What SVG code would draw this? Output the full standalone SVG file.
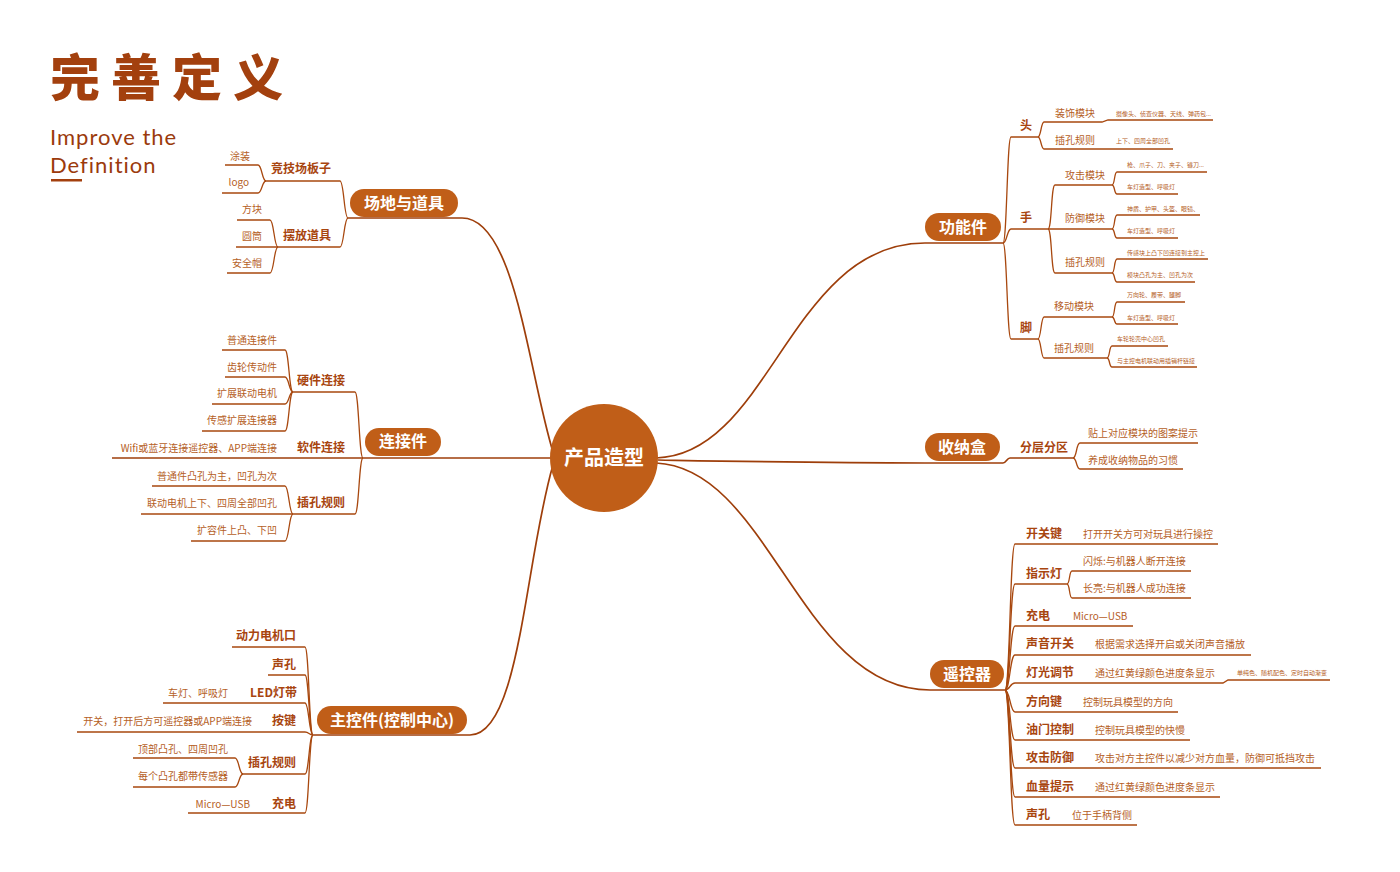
<svg xmlns="http://www.w3.org/2000/svg" width="1400" height="872" viewBox="0 0 1400 872">
<style>
text{font-family:"Noto Sans CJK SC","Noto Sans",sans-serif}
.pill{fill:#C05E18}
.pt{fill:#fff;font-size:16px;font-weight:700;text-anchor:middle}
.b{fill:#A8450F;font-size:12px;font-weight:700}
.c{fill:#B5601F;font-size:10px}
.t{fill:#B5601F;font-size:6px}
.e{text-anchor:end}
.en{font-family:Lato,sans-serif;font-size:22px;fill:#9B3A0C;letter-spacing:1px}
.ln path{fill:none;stroke:#A8480F;stroke-width:1.3}
.ln path.m{stroke:#9E3E0A;stroke-width:1.7}
</style>
<rect width="1400" height="872" fill="#fff"/>
<g id="title">
<text x="50" y="96" style="font-size:50px;font-weight:900;letter-spacing:11px;fill:#A3400E">完善定义</text>
<text class="en" x="50" y="145">Improve the</text>
<text class="en" x="50" y="173">Definition</text>
<rect x="51" y="179" width="31" height="2.5" fill="#A3400E"/>
</g>
<g id="connectors" class="ln">
<path class="m" d="M553,452 C528,370 515,218 462,218 H348"/>
<path d="M265,181 H340 C344,181 344,218 348,218"/>
<path d="M225,165 H258 C262,165 262,181 266,181"/>
<path d="M222,193 H258 C262,193 262,181 266,181"/>
<path d="M278,247 H340 C344,247 344,218 348,218"/>
<path d="M237,220 H270 C274,220 274,247 278,247"/>
<path d="M236,247 H278"/>
<path d="M227,273 H270 C274,273 274,247 278,247"/>
<path class="m" d="M112,458 H552"/>
<path d="M293,392 H355 C359,392 359,458 363,458"/>
<path d="M222,350 H285 C289,350 289,392 293,392"/>
<path d="M225,377 H285 C289,377 289,392 293,392"/>
<path d="M212,404 H285 C289,404 289,392 293,392"/>
<path d="M202,431 H285 C289,431 289,392 293,392"/>
<path d="M293,514 H355 C359,514 359,458 363,458"/>
<path d="M152,486 H285 C289,486 289,514 293,514"/>
<path d="M141,514 H293"/>
<path d="M191,541 H285 C289,541 289,514 293,514"/>
<path class="m" d="M553,465 C525,560 520,735 470,735 H313"/>
<path d="M232,647 H305 C309,647 309,735 313,735"/>
<path d="M268,675 H305 C309,675 309,735 313,735"/>
<path d="M163,703 H305 C309,703 309,735 313,735"/>
<path d="M77,732 H305 C309,732 309,735 313,735"/>
<path d="M242,774 H305 C309,774 309,735 313,735"/>
<path d="M133,758 H235 C239,758 239,774 243,774"/>
<path d="M133,787 H235 C239,787 239,774 243,774"/>
<path d="M188,813 H305 C309,813 309,735 313,735"/>
<path class="m" d="M656,458 C770,455 790,243 925,243 H1003"/>
<path d="M1003,243 C1007,243 1007,137 1011,137 H1038"/>
<path d="M1038,137 C1041,137 1041,122 1044,122 H1102 L1108,120 H1213"/>
<path d="M1038,137 C1041,137 1041,149 1044,149 H1173"/>
<path d="M1003,243 C1007,243 1007,229 1011,229 H1048"/>
<path d="M1048,229 C1052,229 1051,185 1055,185 H1112"/>
<path d="M1112,185 C1115,185 1114,172 1117,172 H1207"/>
<path d="M1112,185 C1115,185 1114,194 1117,194 H1178"/>
<path d="M1048,229 H1112"/>
<path d="M1112,229 C1115,229 1114,215 1117,215 H1200"/>
<path d="M1112,229 C1115,229 1114,238 1117,238 H1178"/>
<path d="M1048,229 C1052,229 1051,273 1055,273 H1112"/>
<path d="M1112,273 C1115,273 1114,259 1117,259 H1208"/>
<path d="M1112,273 C1115,273 1114,282 1117,282 H1195"/>
<path d="M1003,243 C1007,243 1007,339 1011,339 H1038"/>
<path d="M1038,339 C1041,339 1041,317 1044,317 H1112"/>
<path d="M1112,317 C1115,317 1114,302 1117,302 H1185"/>
<path d="M1112,317 C1115,317 1114,324 1117,324 H1178"/>
<path d="M1038,339 C1041,339 1041,358 1044,358 H1107"/>
<path d="M1107,358 C1110,358 1109,346 1112,346 H1168"/>
<path d="M1107,358 C1110,358 1109,367 1112,367 H1197"/>
<path class="m" d="M658,460 C770,462 820,463 925,463 H1003 C1006,463 1007,458 1010,458 H1073"/>
<path d="M1073,458 C1077,458 1076,443 1080,443 H1198"/>
<path d="M1073,458 C1077,458 1076,469 1080,469 H1183"/>
<path class="m" d="M656,463 C770,468 800,690 930,690 H1005"/>
<path d="M1005,690 C1010,690 1010,544 1015,544 H1218"/>
<path d="M1005,690 C1010,690 1010,584 1015,584 H1067"/>
<path d="M1067,584 C1070,584 1069,571 1072,571 H1191"/>
<path d="M1067,584 C1070,584 1069,598 1072,598 H1191"/>
<path d="M1005,690 C1010,690 1010,626 1015,626 H1133"/>
<path d="M1005,690 C1010,690 1010,655 1015,655 H1251"/>
<path d="M1005,690 C1010,690 1010,683 1015,683 H1223 L1228,680 H1330"/>
<path d="M1005,690 C1010,690 1010,712 1015,712 H1178"/>
<path d="M1005,690 C1010,690 1010,740 1015,740 H1190"/>
<path d="M1005,690 C1010,690 1010,768 1015,768 H1321"/>
<path d="M1005,690 C1010,690 1010,797 1015,797 H1220"/>
<path d="M1005,690 C1010,690 1010,825 1015,825 H1137"/>
</g>
<g id="center">
<circle cx="604" cy="458" r="54" fill="#C05E18"/>
<text x="604" y="465" style="fill:#fff;font-size:20px;font-weight:700;text-anchor:middle">产品造型</text>
</g>
<g id="node-changdi">
<rect class="pill" x="350" y="189" width="108" height="28" rx="14"/>
<text class="pt" x="404" y="209">场地与道具</text>
<text class="b e" x="331" y="173">竞技场板子</text>
<text class="c e" x="250" y="160">涂装</text>
<text class="c e" x="249" y="186">logo</text>
<text class="b e" x="331" y="240">摆放道具</text>
<text class="c e" x="262" y="213">方块</text>
<text class="c e" x="262" y="240">圆筒</text>
<text class="c e" x="262" y="267">安全帽</text>
</g>
<g id="node-lianjie">
<rect class="pill" x="365" y="428" width="76" height="28" rx="14"/>
<text class="pt" x="403" y="447">连接件</text>
<text class="b e" x="345" y="385">硬件连接</text>
<text class="c e" x="277" y="344">普通连接件</text>
<text class="c e" x="277" y="371">齿轮传动件</text>
<text class="c e" x="277" y="397">扩展联动电机</text>
<text class="c e" x="277" y="424">传感扩展连接器</text>
<text class="b e" x="345" y="452">软件连接</text>
<text class="c e" x="277" y="452">Wifi或蓝牙连接遥控器、APP端连接</text>
<text class="b e" x="345" y="507">插孔规则</text>
<text class="c e" x="277" y="480">普通件凸孔为主，凹孔为次</text>
<text class="c e" x="277" y="507">联动电机上下、四周全部凹孔</text>
<text class="c e" x="277" y="534">扩容件上凸、下凹</text>
</g>
<g id="node-zhukong">
<rect class="pill" x="317" y="706" width="150" height="28" rx="14"/>
<text class="pt" x="392" y="726">主控件(控制中心)</text>
<text class="b e" x="296" y="640">动力电机口</text>
<text class="b e" x="296" y="669">声孔</text>
<text class="b e" x="297" y="697">LED灯带</text>
<text class="c e" x="228" y="697">车灯、呼吸灯</text>
<text class="b e" x="296" y="725">按键</text>
<text class="c e" x="252" y="725">开关，打开后方可遥控器或APP端连接</text>
<text class="b e" x="296" y="767">插孔规则</text>
<text class="c e" x="228" y="753">顶部凸孔、四周凹孔</text>
<text class="c e" x="228" y="780">每个凸孔都带传感器</text>
<text class="b e" x="296" y="808">充电</text>
<text class="c e" x="250" y="808">Micro—USB</text>
</g>
<g id="node-gongneng">
<rect class="pill" x="925" y="213" width="76" height="28" rx="14"/>
<text class="pt" x="963" y="233">功能件</text>
<text class="b" x="1020" y="130">头</text>
<text class="c" x="1055" y="117">装饰模块</text>
<text class="t" x="1116" y="116">摄像头、侦查仪器、天线、弹药包...</text>
<text class="c" x="1055" y="144">插孔规则</text>
<text class="t" x="1116" y="143">上下、四周全部凹孔</text>
<text class="b" x="1020" y="222">手</text>
<text class="c" x="1065" y="179">攻击模块</text>
<text class="t" x="1127" y="167">枪、爪子、刀、夹子、镰刀...</text>
<text class="t" x="1127" y="189">车灯造型、呼吸灯</text>
<text class="c" x="1065" y="222">防御模块</text>
<text class="t" x="1127" y="211">神盾、护甲、头盔、眼镜、</text>
<text class="t" x="1127" y="233">车灯造型、呼吸灯</text>
<text class="c" x="1065" y="266">插孔规则</text>
<text class="t" x="1127" y="255">传感块上凸下凹连接到主控上</text>
<text class="t" x="1127" y="277">模块凸孔为主、凹孔为次</text>
<text class="b" x="1020" y="332">脚</text>
<text class="c" x="1054" y="310">移动模块</text>
<text class="t" x="1127" y="297">万向轮、履带、腿脚</text>
<text class="t" x="1127" y="320">车灯造型、呼吸灯</text>
<text class="c" x="1054" y="352">插孔规则</text>
<text class="t" x="1117" y="341">车轮轮壳中心凹孔</text>
<text class="t" x="1117" y="363">与主控电机联动用插销杆链接</text>
</g>
<g id="node-shouna">
<rect class="pill" x="925" y="433" width="75" height="28" rx="14"/>
<text class="pt" x="962" y="453">收纳盒</text>
<text class="b" x="1020" y="452">分层分区</text>
<text class="c" x="1088" y="437">贴上对应模块的图案提示</text>
<text class="c" x="1088" y="464">养成收纳物品的习惯</text>
</g>
<g id="node-yaokong">
<rect class="pill" x="930" y="660" width="74" height="28" rx="14"/>
<text class="pt" x="967" y="680">遥控器</text>
<text class="b" x="1026" y="538">开关键</text>
<text class="c" x="1083" y="538">打开开关方可对玩具进行操控</text>
<text class="b" x="1026" y="578">指示灯</text>
<text class="c" x="1083" y="565">闪烁:与机器人断开连接</text>
<text class="c" x="1083" y="592">长亮:与机器人成功连接</text>
<text class="b" x="1026" y="620">充电</text>
<text class="c" x="1073" y="620">Micro—USB</text>
<text class="b" x="1026" y="648">声音开关</text>
<text class="c" x="1095" y="648">根据需求选择开启或关闭声音播放</text>
<text class="b" x="1026" y="677">灯光调节</text>
<text class="c" x="1095" y="677">通过红黄绿颜色进度条显示</text>
<text class="t" x="1237" y="675">单纯色、随机配色、定时自动渐变</text>
<text class="b" x="1026" y="706">方向键</text>
<text class="c" x="1083" y="706">控制玩具模型的方向</text>
<text class="b" x="1026" y="734">油门控制</text>
<text class="c" x="1095" y="734">控制玩具模型的快慢</text>
<text class="b" x="1026" y="762">攻击防御</text>
<text class="c" x="1095" y="762">攻击对方主控件以减少对方血量，防御可抵挡攻击</text>
<text class="b" x="1026" y="791">血量提示</text>
<text class="c" x="1095" y="791">通过红黄绿颜色进度条显示</text>
<text class="b" x="1026" y="819">声孔</text>
<text class="c" x="1072" y="819">位于手柄背侧</text>
</g>
</svg>
